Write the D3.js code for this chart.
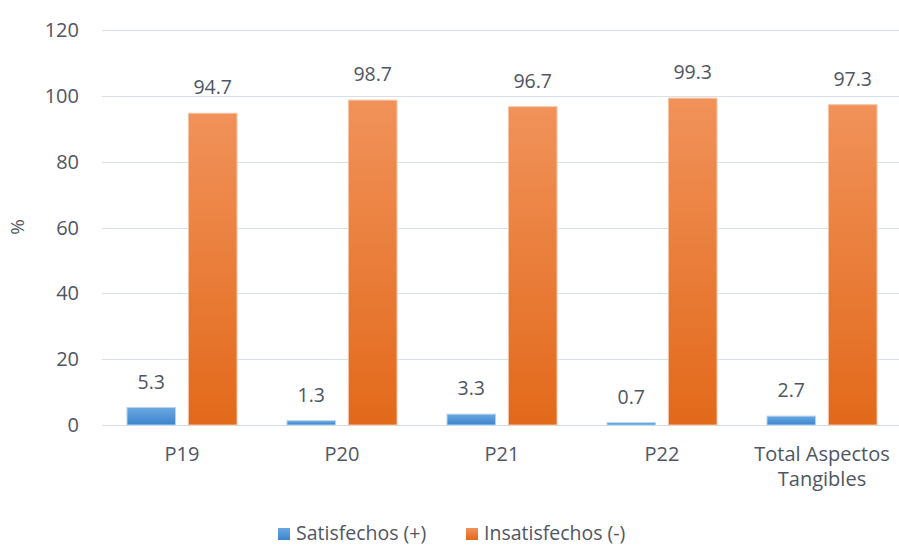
<!DOCTYPE html>
<html lang="es">
<head>
<meta charset="utf-8">
<title>Aspectos Tangibles</title>
<script src="https://cdnjs.cloudflare.com/ajax/libs/d3/7.8.5/d3.min.js"></script>
<style>
body { margin: 0; background: #fff; }
svg text { font-family: "Open Sans", sans-serif; fill: #4f5663; }
.grid line { stroke: #d9dfe7; stroke-width: 1.5; shape-rendering: crispEdges; }
</style>
</head>
<body>
<svg width="899" height="547"></svg>
<script>

var categories = ["P19", "P20", "P21", "P22", "Total Aspectos Tangibles"];
var series = ["Satisfechos (+)", "Insatisfechos (-)"];
var satisfechos = [5.3, 1.3, 3.3, 0.7, 2.7];
var insatisfechos = [94.7, 98.7, 96.7, 99.3, 97.3];
var yTicks = [0, 20, 40, 60, 80, 100, 120];

var svg = d3.select("svg");

var x = d3.scaleBand().domain(categories).range([102, 902]);
var x1 = d3.scaleBand().domain(series).range([25, 135]).paddingInner(0.21);
var y = d3.scaleLinear().domain([0, 120]).range([425, 30]);

var colors = {
  "Satisfechos (+)": ["#6aa8e2", "#3d84cc"],
  "Insatisfechos (-)": ["#f1925a", "#e2691a"]
};

var defs = svg.append("defs");
series.forEach(function(s, i) {
  var grad = defs.append("linearGradient")
      .attr("id", "g" + i)
      .attr("x1", 0).attr("y1", 0).attr("x2", 0).attr("y2", 1);
  grad.append("stop").attr("offset", "0%").attr("stop-color", colors[s][0]);
  grad.append("stop").attr("offset", "100%").attr("stop-color", colors[s][1]);
});

// gridlines
svg.append("g")
    .attr("class", "grid")
  .selectAll("line").data(yTicks).enter().append("line")
    .attr("x1", 102).attr("x2", 902)
    .attr("y1", function(d) { return Math.round(y(d)) + 0.5; })
    .attr("y2", function(d) { return Math.round(y(d)) + 0.5; });

// y tick labels
svg.append("g").selectAll("text").data(yTicks).enter().append("text")
    .attr("x", 79)
    .attr("y", function(d) { return y(d); })
    .attr("dy", "0.35em")
    .attr("text-anchor", "end")
    .style("font-size", "20px")
    .text(function(d) { return d; });

svg.append("text")
    .attr("transform", "translate(24,227) rotate(-90)")
    .attr("text-anchor", "middle")
    .style("font-size", "19px")
    .text("%");

var rows = categories.map(function(c, i) {
  return { cat: c, vals: [satisfechos[i], insatisfechos[i]] };
});

var grp = svg.append("g").selectAll("g").data(rows).enter().append("g")
    .attr("transform", function(d) { return "translate(" + x(d.cat) + ",0)"; });

grp.selectAll("rect").data(function(d) { return d.vals; }).enter().append("rect")
    .attr("x", function(d, i) { return x1(series[i]); })
    .attr("width", x1.bandwidth())
    .attr("y", function(d) { return y(d); })
    .attr("height", function(d) { return y(0) - y(d); })
    .attr("fill", function(d, i) { return "url(#g" + i + ")"; })
    .attr("stroke", function(d, i) { return i ? "#f7c4a4" : "#b5d3f0"; })
    .attr("stroke-width", 1);

grp.selectAll(".val").data(function(d) { return d.vals; }).enter().append("text")
    .attr("class", "val")
    .attr("x", function(d, i) { return x1(series[i]) + x1.bandwidth() / 2; })
    .attr("y", function(d) { return y(d) - 19; })
    .attr("text-anchor", "middle")
    .style("font-size", "19.5px")
    .text(function(d) { return d.toFixed(1); });

// category labels, wrapped like the original
var catLines = { "Total Aspectos Tangibles": ["Total Aspectos", "Tangibles"] };
svg.append("g").selectAll("text").data(categories).enter().append("text")
    .attr("x", function(d) { return x(d) + x.bandwidth() / 2; })
    .attr("y", 461)
    .attr("text-anchor", "middle")
    .style("font-size", "20px")
    .each(function(d) {
      var lines = catLines[d] || [d];
      var t = d3.select(this);
      lines.forEach(function(l, i) {
        t.append("tspan")
            .attr("x", x(d) + x.bandwidth() / 2)
            .attr("dy", i ? 25 : 0)
            .text(l);
      });
    });

// legend
var legX = [278, 466];
var leg = svg.append("g").selectAll("g").data(series).enter().append("g")
    .attr("transform", function(d, i) { return "translate(" + legX[i] + ",528)"; });
leg.append("rect")
    .attr("width", 12).attr("height", 12)
    .attr("fill", function(d, i) { return "url(#g" + i + ")"; });
leg.append("text")
    .attr("x", 18).attr("y", 12)
    .style("font-size", "19.5px")
    .text(function(d) { return d; });

</script>
</body>
</html>
